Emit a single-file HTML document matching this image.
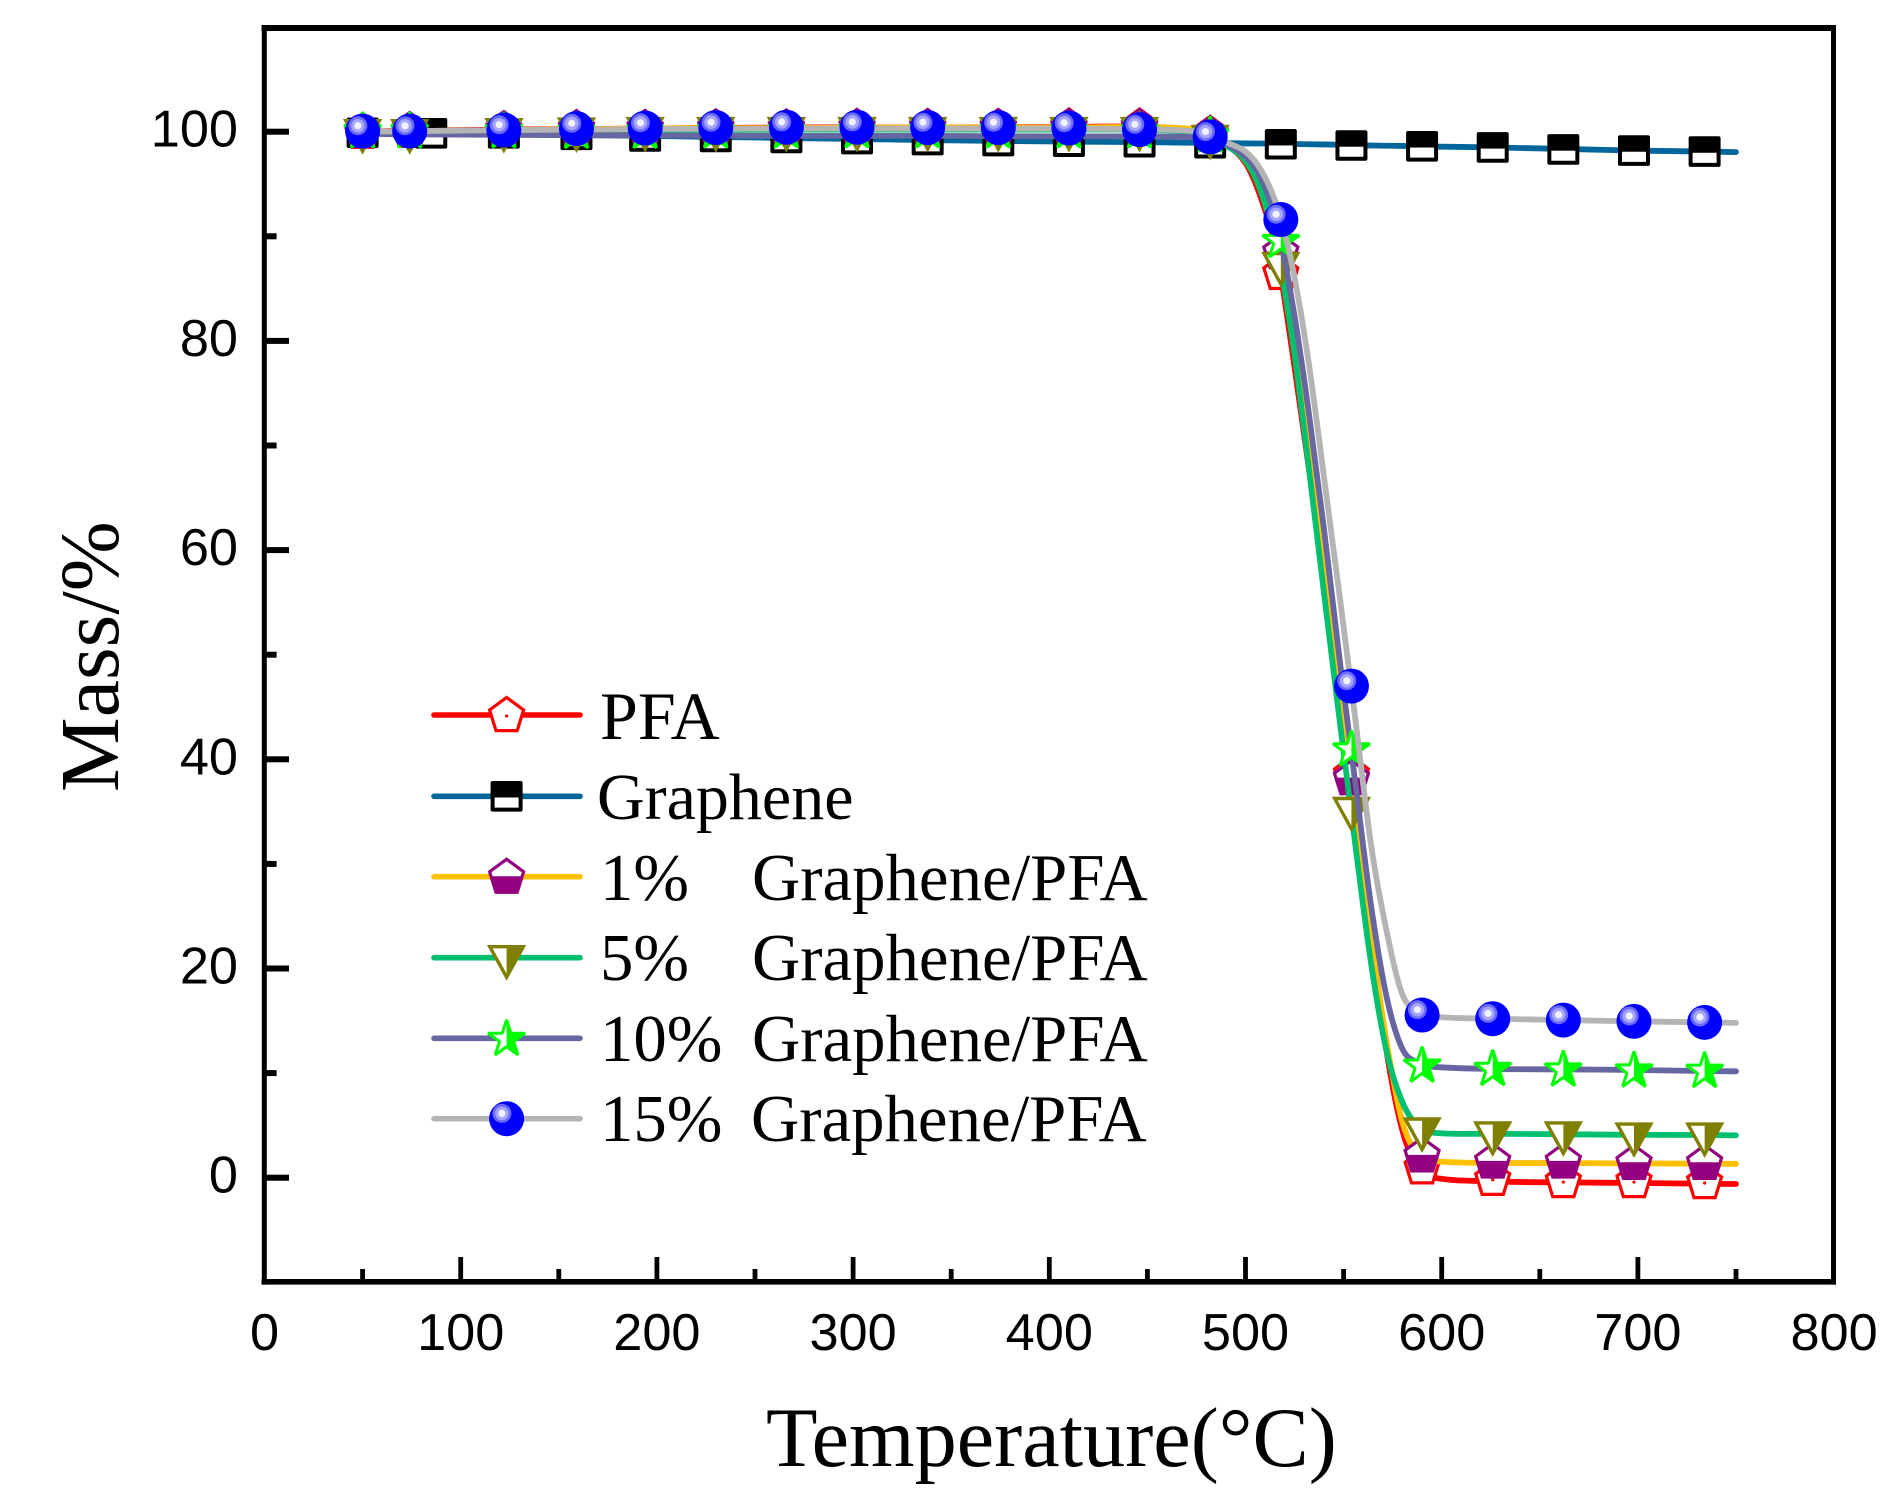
<!DOCTYPE html>
<html>
<head>
<meta charset="utf-8">
<title>Mass vs Temperature</title>
<style>
html,body{margin:0;padding:0;background:#fff;}
svg{display:block;}
.tick{font-family:"Liberation Sans",Arial,sans-serif;font-size:52.3px;fill:#000;}
.title{font-family:"Liberation Serif","Times New Roman",serif;font-size:84.3px;fill:#000;}
.ytitle{font-size:84px;}
.leg{font-family:"Liberation Serif","Times New Roman",serif;font-size:66.8px;fill:#000;}
</style>
</head>
<body>
<svg id="chart" width="1895" height="1509" viewBox="0 0 1895 1509" xmlns="http://www.w3.org/2000/svg">
  <rect x="0" y="0" width="1895" height="1509" fill="#fff"/>
  <g id="series"></g>
  <g id="axes"></g>
  <text class="title" x="766" y="1466">Temperature(°C)</text>
  <text class="title ytitle" transform="translate(118,792) rotate(-90)">Mass/%</text>
  <g id="legend">
    <g id="leg0"><text class="leg" style="font-size:68px" x="600" y="739">PFA</text></g>
    <g id="leg1"><text class="leg" style="font-size:66px" x="597" y="819">Graphene</text></g>
    <g id="leg2"><text class="leg" y="900"><tspan x="600">1%</tspan><tspan x="752">Graphene/PFA</tspan></text></g>
    <g id="leg3"><text class="leg" y="980"><tspan x="600">5%</tspan><tspan x="752">Graphene/PFA</tspan></text></g>
    <g id="leg4"><text class="leg" y="1061"><tspan x="600">10%</tspan><tspan x="752">Graphene/PFA</tspan></text></g>
    <g id="leg5"><text class="leg" y="1141"><tspan x="600">15%</tspan><tspan x="751">Graphene/PFA</tspan></text></g>
  </g>
</svg>
<script>
const xTickValues = [0,100,200,300,400,500,600,700,800];
const xMinorValues = [50,150,250,350,450,550,650,750];
const yTickValues = [0,20,40,60,80,100];
const yMinorValues = [10,30,50,70,90];

const lineTemps = [50,74,122,194,266,338,410,446,470,482,490,500,508,516,524,532,540,548,556,564,572,580,588,596,626,662,698,734,750];
const pfaLine = [100,100.1,100.2,100.3,100.4,100.4,100.45,100.5,100.2,99.6,98.8,97,93.6,88.3,78.8,68.2,58,46.8,35.5,23.5,12,4.5,0.9,0,-0.35,-0.45,-0.5,-0.58,-0.6];
const grapheneLine = [99.95,99.9,99.75,99.6,99.4,99.2,99.05,99,98.95,98.9,98.9,98.88,98.87,98.85,98.83,98.8,98.78,98.75,98.7,98.68,98.66,98.64,98.62,98.58,98.5,98.35,98.2,98.1,98.05];
const onePctLine = [100,100.05,100.15,100.3,100.35,100.4,100.4,100.45,100.3,99.9,98.9,97.2,94.6,90,81.5,71,59,46.7,34.6,23,12.9,5.3,2.2,1.6,1.42,1.4,1.36,1.34,1.33];
const fivePctLine = [100,100,100.1,100.15,100.2,100.2,100.2,100.2,100,99.5,98.7,97.2,94.2,88.7,80,68.3,55.9,43.7,31.8,20.5,12,7.2,4.9,4.3,4.2,4.15,4.1,4.08,4.05];
const tenPctLine = [99.8,99.75,99.7,99.65,99.6,99.6,99.55,99.55,99.5,99.3,98.8,97.6,95.5,91.2,83.5,73.5,62,49.5,37.7,26,17.2,12.3,11,10.6,10.4,10.35,10.3,10.2,10.17];
const fifteenPctLine = [100,100.05,100.15,100.25,100.3,100.3,100.3,100.25,100.1,99.75,99,98.1,96.3,92.9,87,78.2,67,55.6,43.8,31.8,23.5,17.5,15.9,15.4,15.2,15.07,14.95,14.85,14.8];

const markerTemps = [50,74,122,159,194,230,266,302,338,374,410,446,482,518,554,590,626,662,698,734];
const grapheneMarkerTemps = [50,85,122,159,194,230,266,302,338,374,410,446,482,518,554,590,626,662,698,734];
const pfaMarkers = [100,100.1,100.2,100.3,100.35,100.4,100.4,100.45,100.45,100.45,100.5,100.5,99.8,86.5,38.6,1,-0.1,-0.32,-0.32,-0.41];
const grapheneMarkers = [99.9,99.85,99.85,99.7,99.55,99.5,99.4,99.3,99.2,99.1,99.05,99,98.9,98.8,98.68,98.6,98.5,98.3,98.2,98.1];
const onePctMarkers = [100.06,100.16,100.25,100.35,100.35,100.4,100.4,100.45,100.45,100.45,100.45,100.45,99.75,88.5,38.2,2.14,1.56,1.56,1.43,1.43];
const fivePctMarkers = [100,100,100.1,100.15,100.2,100.2,100.2,100.2,100.2,100.2,100.2,100.2,99.45,87.3,35.2,4.56,4.18,4.18,4.08,4.08];
const tenPctMarkers = [100.1,100.1,100.1,100.05,100.05,100.1,100.1,100.1,100.1,100.1,100.1,100.1,99.7,89.6,41,10.77,10.46,10.39,10.3,10.27];
const fifteenPctMarkers = [100.06,100.06,100.16,100.3,100.35,100.4,100.43,100.43,100.4,100.4,100.35,100.2,99.5,91.6,47,15.55,15.2,15.07,14.95,14.85];

const NS = 'http://www.w3.org/2000/svg';
function xScale(t){ return 264.5 + 1.962 * t; }
function yScale(v){ return 1177.7 - 10.46 * v; }

function make(tag, attrs, parent){
  const el = document.createElementNS(NS, tag);
  for (const k in attrs) el.setAttribute(k, attrs[k]);
  parent.appendChild(el);
  return el;
}
function curvePath(ts, vs){
  const px = ts.map(xScale), py = vs.map(yScale), n = px.length, m = [];
  for (let i = 0; i < n; i++){
    const a = Math.max(0, i - 1), b = Math.min(n - 1, i + 1);
    m.push((py[b] - py[a]) / (px[b] - px[a]));
  }
  let d = 'M' + px[0].toFixed(2) + ' ' + py[0].toFixed(2);
  for (let i = 0; i < n - 1; i++){
    const h = (px[i + 1] - px[i]) / 3;
    d += 'C' + (px[i] + h).toFixed(2) + ' ' + (py[i] + m[i] * h).toFixed(2) + ' ' +
         (px[i + 1] - h).toFixed(2) + ' ' + (py[i + 1] - m[i + 1] * h).toFixed(2) + ' ' +
         px[i + 1].toFixed(2) + ' ' + py[i + 1].toFixed(2);
  }
  return d;
}
function pts(a){ return a.map(p => p.join(',')).join(' '); }

const pentagon = [[0,-17.5],[17,-5],[10.6,15.6],[-10.6,15.6],[-17,-5]];
const pentagonLower = [[-16,0],[16,0],[10.6,15.6],[-10.6,15.6]];
const triangle = [[-16.8,-11],[16.8,-11],[0,19.5]];
const triangleRight = [[0,-11],[16.8,-11],[0,19.5]];
const star = [[0,-18.5],[4.36,-5.1],[18.45,-5.1],[7.05,3.19],[11.4,16.6],[0,8.31],[-11.4,16.6],[-7.05,3.19],[-18.45,-5.1],[-4.36,-5.1]];
const starRight = [[0,-18.5],[4.36,-5.1],[18.45,-5.1],[7.05,3.19],[11.4,16.6],[0,8.31]];

function drawMarker(kind, x, y, parent, name){
  const g = make('g', {transform: 'translate(' + x.toFixed(2) + ',' + y.toFixed(2) + ')'}, parent);
  
  
  if (kind === 'pfa'){
    make('polygon', {points: pts(pentagon), fill: '#fff', stroke: '#ff0000', 'stroke-width': 3.2, 'stroke-linejoin': 'miter'}, g);
    make('circle', {cx: 0, cy: 1, r: 1.6, fill: '#ff0000'}, g);
  } else if (kind === 'graphene'){
    make('rect', {x: -14, y: -13.3, width: 28, height: 26.6, fill: '#fff', stroke: '#000', 'stroke-width': 4, 'stroke-linejoin': 'round'}, g);
    make('rect', {x: -14, y: -13.3, width: 28, height: 14.5, fill: '#000'}, g);
  } else if (kind === 'one'){
    make('polygon', {points: pts(pentagon), fill: '#fff', stroke: '#930080', 'stroke-width': 3.2, 'stroke-linejoin': 'miter'}, g);
    make('polygon', {points: pts(pentagonLower), fill: '#930080', stroke: '#930080', 'stroke-width': 1}, g);
  } else if (kind === 'five'){
    make('polygon', {points: pts(triangle), fill: '#fff', stroke: '#808000', 'stroke-width': 3.4, 'stroke-linejoin': 'miter'}, g);
    make('polygon', {points: pts(triangleRight), fill: '#808000'}, g);
  } else if (kind === 'ten'){
    make('polygon', {points: pts(star), fill: '#fff', stroke: '#00ff00', 'stroke-width': 3, 'stroke-linejoin': 'bevel'}, g);
    make('polygon', {points: pts(starRight), fill: '#00ff00'}, g);
  } else {
    make('circle', {cx: 0, cy: 0, r: 17.5, fill: '#0000ff'}, g);
    make('circle', {cx: -4.7, cy: -5.3, r: 9.5, fill: '#6a6aff'}, g);
    make('circle', {cx: -4.7, cy: -5.3, r: 6.8, fill: '#a5a5ff'}, g);
    make('circle', {cx: -4.7, cy: -5.3, r: 3.6, fill: '#f2f2ff'}, g);
  }
}

const seriesKinds = ['pfa','graphene','one','five','ten','fifteen'];
const seriesSlugs = ['pfa','graphene','1pct','5pct','10pct','15pct'];
const lineColors = ['#ff0000','#00669c','#ffc000','#00c070','#6666a0','#b4b4b4'];
const lineValues = [pfaLine, grapheneLine, onePctLine, fivePctLine, tenPctLine, fifteenPctLine];
const markerValues = [pfaMarkers, grapheneMarkers, onePctMarkers, fivePctMarkers, tenPctMarkers, fifteenPctMarkers];
const legendRowY = [715, 796.3, 876.7, 957.7, 1038.3, 1118.7];

const seriesLayer = document.getElementById('series');
seriesKinds.forEach(function(kind, i){
  const g = make('g', {}, seriesLayer);
  
  
  const line = make('path', {d: curvePath(lineTemps, lineValues[i]), fill: 'none', stroke: lineColors[i], 'stroke-width': 5.8, 'stroke-linecap': 'round', 'stroke-linejoin': 'round'}, g);
  
  
  const temps = kind === 'graphene' ? grapheneMarkerTemps : markerTemps;
  temps.forEach(function(t, j){
    drawMarker(kind, xScale(t), yScale(markerValues[i][j]), g, 'marker-' + seriesSlugs[i]);
  });

  const entry = document.getElementById('leg' + i);
  const legLine = document.createElementNS(NS, 'line');
  legLine.setAttribute('x1', 434);
  legLine.setAttribute('x2', 580);
  legLine.setAttribute('y1', legendRowY[i]);
  legLine.setAttribute('y2', legendRowY[i]);
  legLine.setAttribute('stroke', lineColors[i]);
  legLine.setAttribute('stroke-width', 5.6);
  legLine.setAttribute('stroke-linecap', 'round');
  
  
  entry.appendChild(legLine);
  drawMarker(kind, 506.6, legendRowY[i], entry, 'legend-marker-' + seriesSlugs[i]);
});

const axes = document.getElementById('axes');
const frame = [
  ['top-spine', 261.5, 25, 1574.5, 6],
  ['bottom-spine', 261.5, 1279, 1574.5, 5.6],
  ['left-spine', 261.8, 25, 5, 1259.6],
  ['right-spine', 1831, 25, 5, 1259.6]
];
frame.forEach(function(f){
  const r = make('rect', {x: f[1], y: f[2], width: f[3], height: f[4], fill: '#000'}, axes);
  
  
});
xTickValues.forEach(function(v){
  const x = xScale(v);
  if (v > 0 && v < 800){
    const t = make('rect', {x: x - 2.4, y: 1257, width: 4.8, height: 24, fill: '#000'}, axes);
    
    
  }
  const l = make('text', {x: x, y: 1350, 'text-anchor': 'middle', 'class': 'tick'}, axes);
  
  
  l.textContent = String(v);
});
xMinorValues.forEach(function(v){
  const t = make('rect', {x: xScale(v) - 2.4, y: 1269, width: 4.8, height: 12, fill: '#000'}, axes);
  
  
});
yTickValues.forEach(function(v){
  const y = yScale(v);
  const t = make('rect', {x: 264, y: y - 3, width: 25, height: 6, fill: '#000'}, axes);
  
  
  const l = make('text', {x: 238, y: y + 15, 'text-anchor': 'end', 'class': 'tick'}, axes);
  
  
  l.textContent = String(v);
});
yMinorValues.forEach(function(v){
  const t = make('rect', {x: 264, y: yScale(v) - 3, width: 12.6, height: 6, fill: '#000'}, axes);
  
  
});
</script>
</body>
</html>
